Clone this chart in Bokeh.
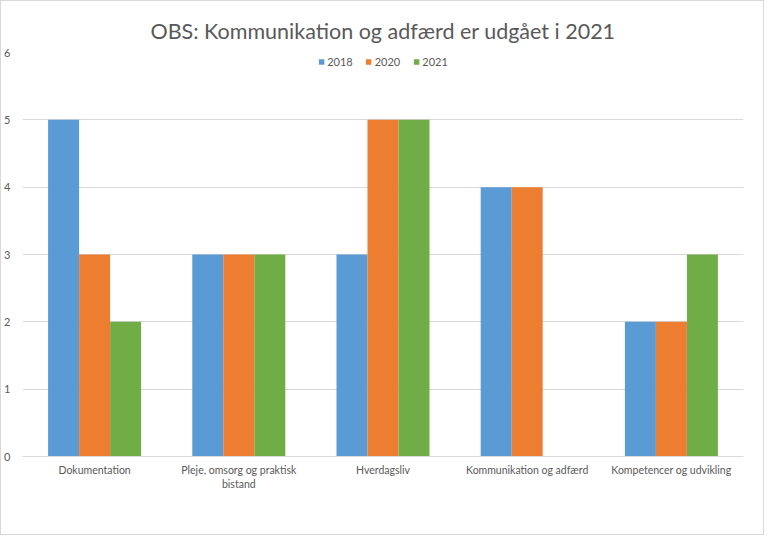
from bokeh.plotting import figure
from bokeh.models import ColumnDataSource, Legend, LegendItem, FactorRange
from bokeh.transform import dodge
from bokeh.embed import file_html
from bokeh.resources import INLINE

categories = ["Dokumentation", "Pleje, omsorg og praktisk\nbistand", "Hverdagsliv",
              "Kommunikation og adfærd", "Kompetencer og udvikling"]
years = ["2018", "2020", "2021"]
v2018 = [5, 3, 3, 4, 2]
v2020 = [3, 3, 5, 4, 2]
v2021 = [2, 3, 5, float("nan"), 3]
colors = ["#5B9BD5", "#ED7D31", "#70AD47"]
title_text = "OBS: Kommunikation og adfærd er udgået i 2021"

src = ColumnDataSource(dict(cat=categories, y2018=v2018, y2020=v2020, y2021=v2021))

FONT = "Lato"
TXT = "#595959"

p = figure(x_range=FactorRange(*categories, range_padding=0), y_range=(0, 6),
           frame_width=721, frame_height=404, output_backend="svg", toolbar_location=None,
           min_border_left=14, min_border_right=20, min_border_top=51, min_border_bottom=78)
p.x_range.range_padding = 0

w = 0.215
renderers = []
for i, (yr, col) in enumerate(zip(years, colors)):
    r = p.vbar(x=dodge("cat", (i - 1) * w, range=p.x_range), top="y" + yr, width=w,
               source=src, fill_color=col, line_color=None)
    renderers.append(r)

legend = Legend(items=[LegendItem(label=yr, renderers=[r]) for yr, r in zip(years, renderers)],
                orientation="horizontal", location="top_center",
                glyph_width=7, glyph_height=7, label_text_font_size="11px",
                label_text_font=FONT, label_text_color=TXT, label_standoff=3,
                spacing=12, padding=0, margin=3, border_line_color=None,
                background_fill_alpha=0, label_height=10)
p.add_layout(legend, "center")

p.title.text = title_text
p.title.align = "center"
p.title.text_font = FONT
p.title.text_font_size = "21.5px"
p.title.text_font_style = "normal"
p.title.text_color = TXT
p.title.standoff = 17

p.outline_line_color = None
p.xgrid.grid_line_color = None
p.ygrid.grid_line_color = "#D9D9D9"
p.yaxis.ticker = [0, 1, 2, 3, 4, 5, 6]
p.yaxis.axis_line_color = None
p.yaxis.major_tick_line_color = None
p.yaxis.minor_tick_line_color = None
p.yaxis.major_label_standoff = 6
p.xaxis.axis_line_color = "#D9D9D9"
p.xaxis.major_tick_line_color = None
p.xaxis.major_label_standoff = 1
for ax in (p.xaxis, p.yaxis):
    ax.major_label_text_font = FONT
    ax.major_label_text_font_size = "11px"
    ax.major_label_text_color = TXT
p.xaxis.major_label_text_font_size = "10.5px"
p.styles = {"border": "1px solid #D9D9D9"}

open("out.html", "w").write(file_html(p, INLINE))
